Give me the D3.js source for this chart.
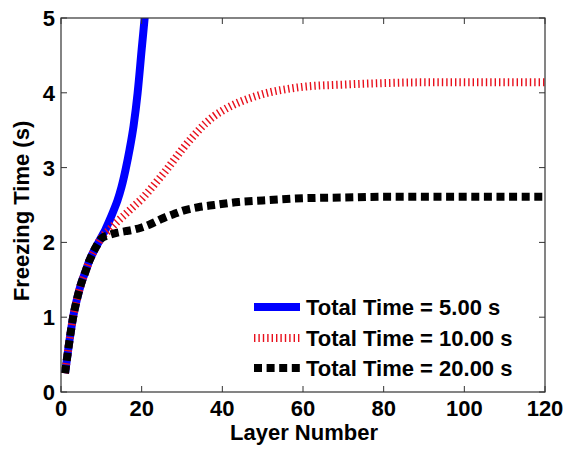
<!DOCTYPE html>
<html lang="en">
<head>
    <meta charset="UTF-8">
    <title>Freezing Time</title>
    <script src="https://d3js.org/d3.v7.min.js"></script>
    <style>
        body { margin: 0; background: #fff; }
        svg text { font-family: Arial, "Liberation Sans", sans-serif; font-weight: bold; fill: #000; }
    </style>
</head>
<body>
<svg width="565" height="449"></svg>
<script>
    // data
    const xTicks = [0, 20, 40, 60, 80, 100, 120];
    const yTicks = [0, 1, 2, 3, 4, 5];

    const blueX = [1, 2, 3, 4, 5, 6, 7, 8, 9, 10, 11, 12, 13, 14, 15, 16, 17, 18, 19, 20, 21, 22];
    const blueY = [0.25, 0.65, 1.0, 1.25, 1.45, 1.6, 1.75, 1.87, 1.97, 2.07, 2.17, 2.29, 2.42, 2.56, 2.74, 2.97, 3.24, 3.56, 4.0, 4.58, 5.15, 5.8];

    const redX = [1, 2, 3, 4, 5, 6, 7, 8, 9, 10, 12, 14, 16, 18, 20, 22, 24, 26, 28, 30, 32, 34, 36, 38, 40, 44, 48, 52, 56, 60, 70, 80, 90, 100, 110, 120];
    const redY = [0.25, 0.65, 1.0, 1.25, 1.45, 1.6, 1.75, 1.87, 1.97, 2.06, 2.17, 2.28, 2.38, 2.48, 2.58, 2.7, 2.83, 2.96, 3.1, 3.24, 3.37, 3.49, 3.6, 3.69, 3.76, 3.87, 3.95, 4.01, 4.05, 4.08, 4.11, 4.13, 4.14, 4.14, 4.14, 4.14];

    const blackX = [1, 2, 3, 4, 5, 6, 7, 8, 9, 10, 12, 14, 16, 18, 20, 22, 24, 26, 28, 30, 34, 38, 44, 50, 60, 70, 80, 100, 120];
    const blackY = [0.25, 0.65, 1.0, 1.25, 1.45, 1.6, 1.75, 1.87, 1.97, 2.05, 2.1, 2.13, 2.15, 2.17, 2.2, 2.24, 2.29, 2.34, 2.38, 2.42, 2.47, 2.5, 2.54, 2.56, 2.59, 2.6, 2.61, 2.61, 2.61];

    const legendNames = ["Total Time = 5.00 s", "Total Time = 10.00 s", "Total Time = 20.00 s"];

    const svg = d3.select("svg");
    const plotLeft = 61, plotTop = 18, plotRight = 545, plotBottom = 392;

    const x = d3.scaleLinear().domain([0, 120]).range([plotLeft, plotRight]);
    const y = d3.scaleLinear().domain([0, 5]).range([plotBottom, plotTop]);

    // series styles
    const series = [
        { xs: blueX, ys: blueY, color: "#0000ff", width: 8, dash: null },
        { xs: redX, ys: redY, color: "#e8101c", width: 8, dash: "1.4,3" },
        { xs: blackX, ys: blackY, color: "#000", width: 8, dash: "8,4.6" }
    ];

    svg.append("clipPath").attr("id", "plotClip")
        .append("rect")
        .attr("x", plotLeft).attr("y", plotTop)
        .attr("width", plotRight - plotLeft).attr("height", plotBottom - plotTop);

    const line = d3.line()
        .x(d => x(d[0]))
        .y(d => y(d[1]))
        .curve(d3.curveMonotoneX);

    const plot = svg.append("g").attr("clip-path", "url(#plotClip)");
    series.forEach(s => {
        const pts = s.xs.map((v, i) => [v, s.ys[i]]);
        plot.append("path")
            .attr("d", line(pts))
            .attr("fill", "none")
            .attr("stroke", s.color)
            .attr("stroke-width", s.width)
            .attr("stroke-dasharray", s.dash)
            .attr("stroke-linejoin", "round");
    });

    // axes box
    const axisColor = "#333";
    svg.append("rect")
        .attr("x", plotLeft).attr("y", plotTop)
        .attr("width", plotRight - plotLeft).attr("height", plotBottom - plotTop)
        .attr("fill", "none")
        .attr("stroke", axisColor)
        .attr("stroke-width", 1.2);

    // x ticks (bottom and top, inward)
    xTicks.forEach(t => {
        svg.append("line")
            .attr("x1", x(t)).attr("x2", x(t))
            .attr("y1", plotBottom).attr("y2", plotBottom - 6)
            .attr("stroke", axisColor);
        svg.append("line")
            .attr("x1", x(t)).attr("x2", x(t))
            .attr("y1", plotTop).attr("y2", plotTop + 6)
            .attr("stroke", axisColor);
        svg.append("text")
            .attr("x", x(t))
            .attr("y", 416)
            .attr("text-anchor", "middle")
            .attr("font-size", 22)
            .text(t);
    });

    // y ticks (left and right, inward)
    yTicks.forEach(t => {
        svg.append("line")
            .attr("x1", plotLeft).attr("x2", plotLeft + 6)
            .attr("y1", y(t)).attr("y2", y(t))
            .attr("stroke", axisColor);
        svg.append("line")
            .attr("x1", plotRight).attr("x2", plotRight - 6)
            .attr("y1", y(t)).attr("y2", y(t))
            .attr("stroke", axisColor);
        svg.append("text")
            .attr("x", 55)
            .attr("y", y(t) + 8)
            .attr("text-anchor", "end")
            .attr("font-size", 22)
            .text(t);
    });

    // axis labels
    svg.append("text")
        .attr("x", 304)
        .attr("y", 440)
        .attr("text-anchor", "middle")
        .attr("font-size", 22)
        .text("Layer Number");

    svg.append("text")
        .attr("transform", "translate(29,211) rotate(-90)")
        .attr("text-anchor", "middle")
        .attr("font-size", 22)
        .text("Freezing Time (s)");

    // legend
    const legendY = [307, 338, 368];
    series.forEach((s, i) => {
        svg.append("line")
            .attr("x1", 254).attr("x2", 300)
            .attr("y1", legendY[i]).attr("y2", legendY[i])
            .attr("stroke", s.color)
            .attr("stroke-width", s.width)
            .attr("stroke-dasharray", s.dash);
        svg.append("text")
            .attr("x", 306)
            .attr("y", legendY[i] + 8)
            .attr("font-size", 22)
            .text(legendNames[i]);
    });
</script>
</body>
</html>
